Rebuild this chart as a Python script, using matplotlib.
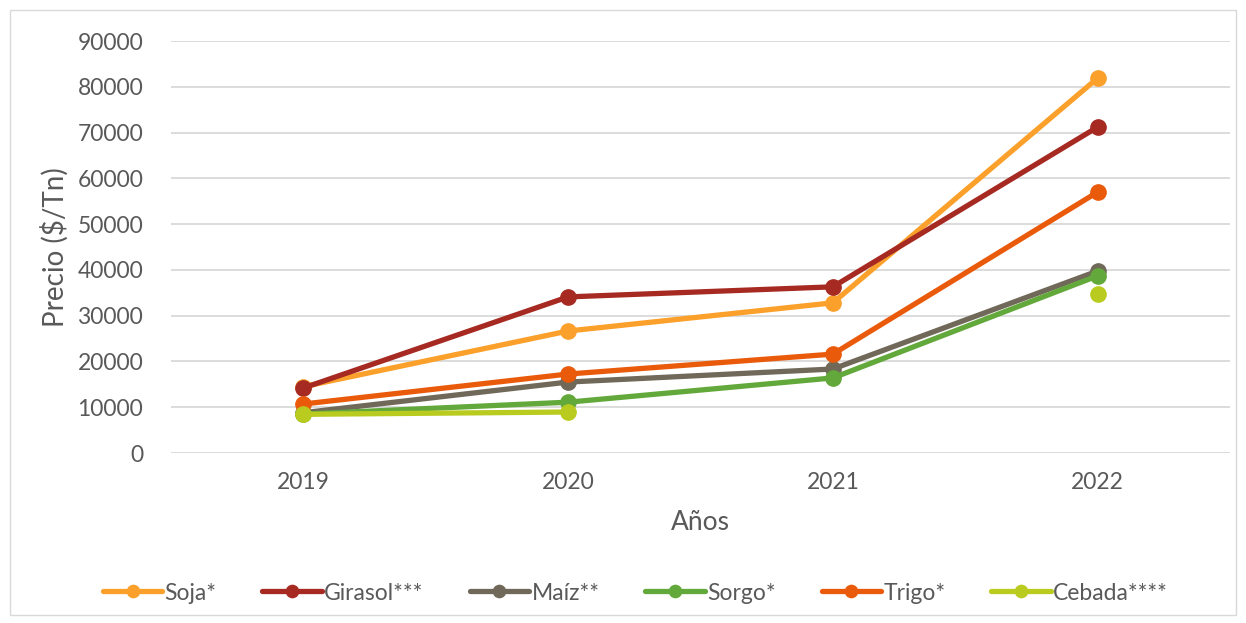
import numpy as np
import matplotlib
matplotlib.use("Agg")
import matplotlib.pyplot as plt
from matplotlib.patches import Rectangle

years = ["2019", "2020", "2021", "2022"]
soja = [14500, 26650, 32800, 81900]
girasol = [14200, 34100, 36300, 71200]
maiz = [8800, 15500, 18350, 39750]
sorgo = [8500, 11100, 16400, 38700]
trigo = [10700, 17250, 21600, 57000]
cebada = [8450, 8950, np.nan, 34700]

series = [
    ("Soja*", soja, "#FBA02B"),
    ("Girasol***", girasol, "#A62A22"),
    ("Maíz**", maiz, "#706859"),
    ("Sorgo*", sorgo, "#63A83A"),
    ("Trigo*", trigo, "#EA5A0B"),
    ("Cebada****", cebada, "#BACB1F"),
]

plt.rcParams['font.family'] = ['Lato', 'DejaVu Sans']
txt = "#595959"

fig = plt.figure(figsize=(12.46, 6.23), dpi=100)
ax = fig.add_axes([171/1246, 1-453/623, (1230-171)/1246, (453-41)/623])

x = np.arange(len(years))
for name, vals, col in series:
    ax.plot(x, vals, color=col, lw=3.8, marker='o', markersize=11,
            label=name, solid_capstyle='round', zorder=3)

ax.set_xlim(-0.5, 3.5)
ax.set_ylim(0, 90000)
ax.set_yticks(np.arange(0, 90001, 10000))
ax.set_xticks(x)
ax.set_xticklabels(years)
ax.grid(axis='y', color='#D9D9D9', lw=1.3, zorder=0)
for s in ['top', 'right', 'left', 'bottom']:
    ax.spines[s].set_visible(False)
ax.tick_params(axis='both', length=0, labelsize=16.5, colors=txt)
ax.tick_params(axis='y', pad=20)
ax.tick_params(axis='x', pad=14)
ax.set_xlabel("Años", fontsize=19, color=txt, labelpad=12)
ax.set_ylabel("Precio ($/Tn)", fontsize=20, color=txt, labelpad=6)

leg = fig.legend(loc='center', bbox_to_anchor=(0.51, 1-593/623), ncol=6,
                 frameon=False, fontsize=16.5, handlelength=2.6,
                 columnspacing=2.0, handletextpad=0.1, markerscale=0.8)
for t in leg.get_texts():
    t.set_color(txt)

fig.patches.append(Rectangle((10/1246, 8/623), 1226/1246, 605/623,
                             transform=fig.transFigure, fill=False,
                             edgecolor='#D9D9D9', lw=1))

fig.savefig("out.png", dpi=100, facecolor='white')
